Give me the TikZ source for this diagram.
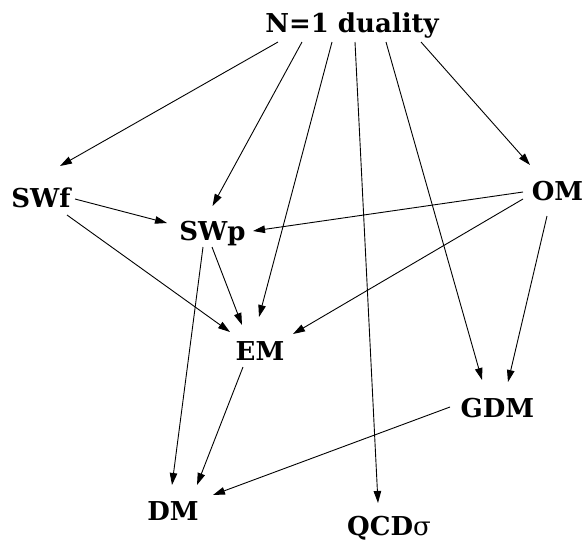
\documentclass[tikz,border=0pt]{standalone}
\usepackage{fontspec}
\newfontfamily\lblfont{DejaVu Serif}
\usetikzlibrary{arrows.meta,calc}
\begin{document}
\begin{tikzpicture}[x=1pt,y=-1pt,
  lbl/.style={inner sep=0pt, anchor=base, font=\lblfont\fontsize{26}{30}\selectfont\bfseries},
  arr/.style={line width=0.9pt, -{Triangle[length=12pt,width=7.5pt]}}]
\useasboundingbox (0,0) rectangle (584,542);
\node[lbl] (dual) at (352,32) {N=1 duality};
\node[lbl] (swf) at (41,207) {SWf};
\node[lbl] (swp) at (212.5,240) {SWp};
\node[lbl] (om) at (557.5,200) {OM};
\node[lbl] (em) at (260,360) {EM};
\node[lbl] (gdm) at (497.5,417) {GDM};
\node[lbl] (dm) at (173,520) {DM};
\node[lbl] (qcd) at (389,535) {QCD{\mdseries σ}};
% from N=1 duality
\draw[arr] ($(dual.base)+(-74,10)$) -- ($(swf.base)+(19,-41)$);
\draw[arr] ($(dual.base)+(-50,10)$) -- ($(swp.base)+(0,-34)$);
\draw[arr] ($(dual.base)+(-20,10)$) -- ($(em.base)+(-1,-43)$);
\draw[arr] ($(dual.base)+(3,10)$) -- ($(qcd.base)+(-11,-32)$);
\draw[arr] ($(dual.base)+(34,10)$) -- ($(gdm.base)+(-15.5,-37)$);
\draw[arr] ($(dual.base)+(69,10)$) -- ($(om.base)+(-27.5,-35)$);
% SWf
\draw[arr] ($(swf.base)+(34,-8)$) -- ($(swp.base)+(-45.5,-17)$);
\draw[arr] ($(swf.base)+(26,8)$) -- ($(em.base)+(-30,-28)$);
% SWp
\draw[arr] ($(swp.base)+(-0.5,7)$) -- ($(em.base)+(-18,-35)$);
\draw[arr] ($(swp.base)+(-9.5,7)$) -- ($(dm.base)+(-1,-35)$);
% OM
\draw[arr] ($(om.base)+(-34.5,-8)$) -- ($(swp.base)+(40.5,-9)$);
\draw[arr] ($(om.base)+(-34.5,-1)$) -- ($(em.base)+(33,-26)$);
\draw[arr] ($(om.base)+(-10.5,16)$) -- ($(gdm.base)+(10.5,-35)$);
% EM, GDM
\draw[arr] ($(em.base)+(-17,7)$) -- ($(dm.base)+(24,-35)$);
\draw[arr] ($(gdm.base)+(-47.5,-10)$) -- ($(dm.base)+(40,-25)$);
\end{tikzpicture}
\end{document}
